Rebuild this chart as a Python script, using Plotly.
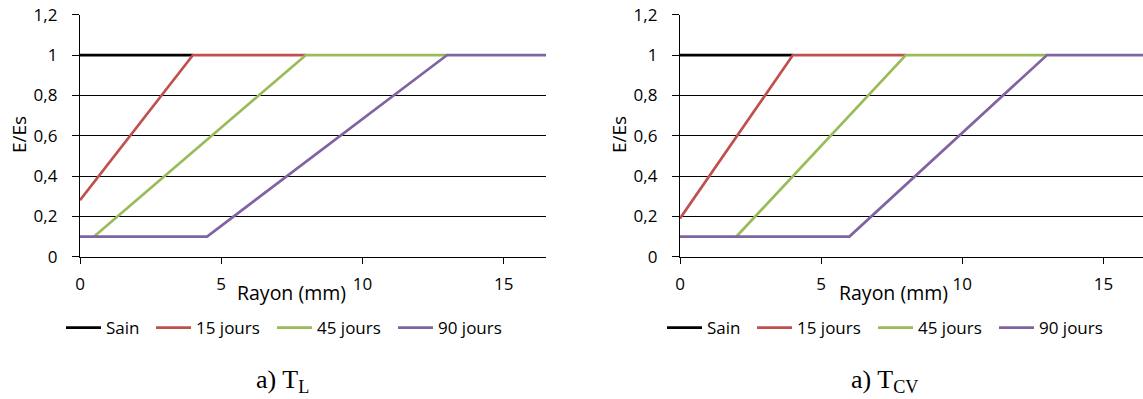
import plotly.graph_objects as go

W, H = 1143, 399

# ---- data ----
sain_x = [0, 4]
sain_y = [1, 1]

tl_15_x = [0, 4, 8]
tl_15_y = [0.28, 1, 1]
tl_45_x = [0.5, 8, 13]
tl_45_y = [0.1, 1, 1]
tl_90_x = [0, 4.5, 13, 16.5]
tl_90_y = [0.1, 0.1, 1, 1]

tcv_15_x = [0, 4, 8]
tcv_15_y = [0.19, 1, 1]
tcv_45_x = [2, 8, 13]
tcv_45_y = [0.1, 1, 1]
tcv_90_x = [0, 6, 13, 16.5]
tcv_90_y = [0.1, 0.1, 1, 1]

series_names = ["Sain", "15 jours", "45 jours", "90 jours"]
series_colors = ["#000000", "#C0504D", "#9BBB59", "#8064A2"]

y_tickvals = [0, 0.2, 0.4, 0.6, 0.8, 1, 1.2]
y_ticktext = ["0", "0,2", "0,4", "0,6", "0,8", "1", "1,2"]
x_tickvals = [0, 5, 10, 15]
x_ticktext = ["0", "5", "10", "15"]

FONT = "Open Sans"


def px_x(p):
    return p / W


def px_y(p):
    return (H - p) / H


fig = go.Figure()

left_sets = [(sain_x, sain_y), (tl_15_x, tl_15_y), (tl_45_x, tl_45_y), (tl_90_x, tl_90_y)]
right_sets = [(sain_x, sain_y), (tcv_15_x, tcv_15_y), (tcv_45_x, tcv_45_y), (tcv_90_x, tcv_90_y)]

legend_line_starts_left = [66, 156, 277, 398]
legend_line_starts_right = [667, 757, 878, 999]

leg_ids = []
for i, (xs, ys) in enumerate(left_sets):
    lid = "legend" if i == 0 else f"legend{i + 1}"
    leg_ids.append((lid, legend_line_starts_left[i]))
    fig.add_trace(go.Scatter(x=xs, y=ys, mode="lines", name=series_names[i],
                             line=dict(color=series_colors[i], width=2.7),
                             xaxis="x", yaxis="y", legend=lid))
for i, (xs, ys) in enumerate(right_sets):
    lid = f"legend{i + 5}"
    leg_ids.append((lid, legend_line_starts_right[i]))
    fig.add_trace(go.Scatter(x=xs, y=ys, mode="lines", name=series_names[i],
                             line=dict(color=series_colors[i], width=2.7),
                             xaxis="x2", yaxis="y2", legend=lid))

y_dom = [px_y(256.7), px_y(14.7)]
left_dom = [px_x(80), px_x(546)]
right_dom = [px_x(680), 1.0]

common_x = dict(showgrid=False, showline=True, linecolor="black", linewidth=1.3,
                ticks="outside", ticklen=6, tickwidth=1.3, tickcolor="black",
                tickvals=x_tickvals, ticktext=x_ticktext, zeroline=False,
                tickfont=dict(family=FONT, size=17, color="black"),
                ticklabelstandoff=6, fixedrange=True, automargin=False)
common_y = dict(range=[0, 1.2], showgrid=True, gridcolor="black", gridwidth=1.2,
                showline=True, linecolor="black", linewidth=1.3,
                ticks="outside", ticklen=7, tickwidth=1.2, tickcolor="black",
                tickvals=y_tickvals, ticktext=y_ticktext, zeroline=False,
                tickfont=dict(family=FONT, size=17, color="black"),
                ticklabelstandoff=11, fixedrange=True, automargin=False)
inner_x = dict(showgrid=False, showline=False, ticks="inside", ticklen=6,
               tickwidth=1.3, tickcolor="black", tickvals=x_tickvals,
               showticklabels=False, zeroline=False, fixedrange=True, automargin=False)

layout = dict(
    width=W, height=H, margin=dict(l=0, r=0, t=0, b=0, autoexpand=False),
    paper_bgcolor="white", plot_bgcolor="white",
    xaxis=dict(domain=left_dom, range=[0, 16.5], anchor="y", **common_x),
    yaxis=dict(domain=y_dom, anchor="x", **common_y),
    xaxis2=dict(domain=right_dom, range=[0, 16.4], anchor="y2", **common_x),
    yaxis2=dict(domain=y_dom, anchor="x2", **common_y),
    xaxis3=dict(domain=left_dom, range=[0, 16.5], anchor="y", overlaying="x", **inner_x),
    xaxis4=dict(domain=right_dom, range=[0, 16.4], anchor="y2", overlaying="x2", **inner_x),
    showlegend=True,
)

for lid, start in leg_ids:
    layout[lid] = dict(x=px_x(start - 5), xanchor="left", y=px_y(328), yanchor="middle",
                       orientation="h", bgcolor="rgba(0,0,0,0)", borderwidth=0,
                       font=dict(family=FONT, size=17, color="black"),
                       itemwidth=35, itemclick=False, itemdoubleclick=False)

fig.update_layout(**layout)

annots = [
    dict(text="E/Es", x=px_x(19), y=px_y(135), textangle=-90, size=19, fam=FONT),
    dict(text="E/Es", x=px_x(619), y=px_y(135), textangle=-90, size=19, fam=FONT),
    dict(text="Rayon (mm)", x=px_x(291), y=px_y(292), textangle=0, size=19.5, fam=FONT),
    dict(text="Rayon (mm)", x=px_x(893), y=px_y(292), textangle=0, size=19.5, fam=FONT),
    dict(text="a) T<sub>L</sub>", x=px_x(282), y=px_y(381), textangle=0, size=26, fam="Liberation Serif"),
    dict(text="a) T<sub>CV</sub>", x=px_x(884), y=px_y(381), textangle=0, size=26, fam="Liberation Serif"),
]
for a in annots:
    fig.add_annotation(text=a["text"], x=a["x"], y=a["y"], xref="paper", yref="paper",
                       xanchor="center", yanchor="middle", showarrow=False,
                       textangle=a["textangle"],
                       font=dict(family=a["fam"], size=a["size"], color="black"))

fig.write_html("out.html", config={"displayModeBar": False},
               post_script="document.body.style.margin='0';document.body.style.overflow='hidden';")
